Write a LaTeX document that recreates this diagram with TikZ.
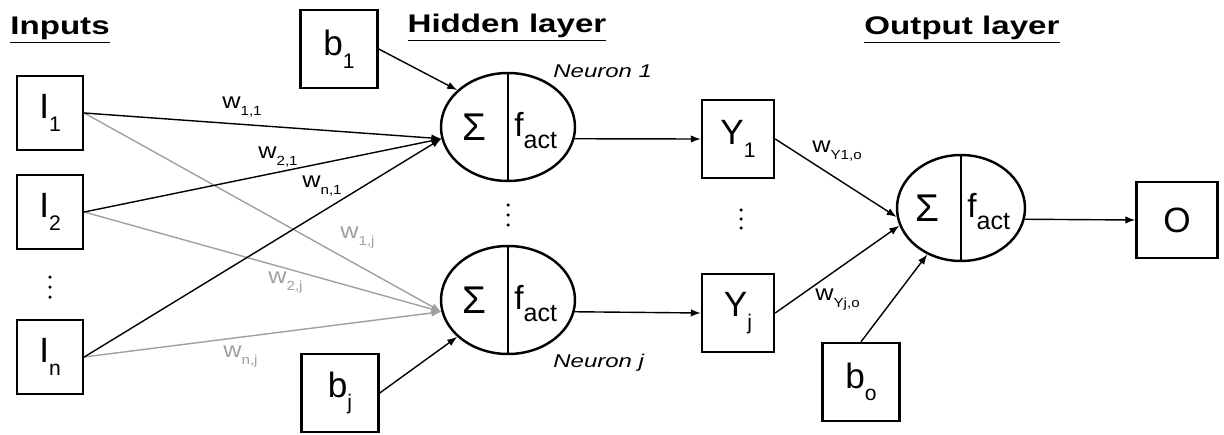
\documentclass[tikz,border=0pt]{standalone}
\usepackage{fontspec}
\setmainfont{Liberation Sans}
\newfontfamily\widesans[FakeStretch=1.3]{Liberation Sans}
\newfontfamily\wsans[FakeStretch=1.15]{Liberation Sans}
\usetikzlibrary{shapes.geometric,arrows.meta}
\definecolor{wgray}{RGB}{160,160,160}
\newcommand{\sub}[2][0.6]{\raisebox{-0.36em}{\scalebox{#1}{#2}}}
\tikzset{
  unitbox/.style={draw,line width=1.4pt,inner sep=0pt,minimum width=1.32cm,minimum height=1.48cm,font=\fontsize{20}{24}\selectfont},
  biasbox/.style={unitbox,minimum width=1.54cm,minimum height=1.56cm},
  outbox/.style={unitbox,minimum width=1.44cm,minimum height=1.56cm},
  neuron/.style={draw,ellipse,line width=1.4pt,inner sep=0pt,minimum width=2.68cm,minimum height=2.16cm},
  sym/.style={inner sep=0pt,font=\fontsize{#1}{24}\selectfont},
  layertitle/.style={inner sep=0pt,font=\fontsize{14.5}{16}\selectfont\widesans\bfseries},
  neuronname/.style={inner sep=0pt,anchor=west,font=\fontsize{10.5}{12}\selectfont\widesans\itshape},
  wlabel/.style={inner sep=0pt,anchor=base west,font=\fontsize{12.5}{14}\selectfont\wsans},
  conn/.style={line width=0.8pt,-{Latex[length=2mm,width=1.5mm]}}
}
\begin{document}
\begin{tikzpicture}
  \useasboundingbox (0,0) rectangle (24.48,8.68);
  % titles
  \node[layertitle] (tin) at (1.20,8.08) {\underline{Inputs}};
  \node[layertitle] (thid) at (10.14,8.12) {\underline{Hidden layer}};
  \node[layertitle] (tout) at (19.24,8.08) {\underline{Output layer}};

  % inputs
  \node[unitbox] (I1) at (1.00,6.42) {I\sub{1}};
  \node[unitbox] (I2) at (1.00,4.44) {I\sub{2}};
  \node[unitbox] (In) at (1.00,1.54) {I\sub{n}};

  % hidden layer
  \node[biasbox] (b1) at (6.78,7.70) {b\sub{1}};
  \node[biasbox] (bj) at (6.80,0.82) {b\sub{j}};
  \node[neuron] (N1) at (10.16,6.14) {};
  \node[neuron] (Nj) at (10.16,2.68) {};
  \node[neuronname] (n1name) at (11.06,7.26) {Neuron 1};
  \node[neuronname] (njname) at (11.06,1.42) {Neuron j};

  % hidden outputs
  \node[outbox] (Y1) at (14.76,5.90) {Y\sub{1}};
  \node[outbox] (Yj) at (14.76,2.42) {Y\sub{j}};

  % output layer
  \node[neuron,minimum width=2.56cm,minimum height=2.12cm] (NO) at (19.22,4.52) {};
  \node[biasbox] (bo) at (17.22,1.04) {b\sub{o}};
  \node[unitbox,minimum width=1.62cm,minimum height=1.52cm] (O) at (23.54,4.28) {O};

  % dots between units
  \foreach \x/\y in {1.00/3.14, 1.00/2.94, 1.00/2.74,
                     10.16/4.58, 10.16/4.38, 10.16/4.18,
                     14.82/4.48, 14.82/4.30, 14.82/4.12}
    \fill (\x,\y) circle (0.035);

  \foreach \n in {N1,Nj,NO}{
    \draw[line width=1.4pt] (\n.north) -- (\n.south);
    \node[sym=22,anchor=base] at ([xshift=-0.68cm,yshift=-0.27cm]\n.center) {Σ};
    \node[sym=19,anchor=base west] at ([xshift=0.12cm,yshift=-0.18cm]\n.center) {f\sub[0.75]{act}};
  }

  % weights
  \foreach \i in {I1,I2,In}
    \draw[conn,wgray] (\i.east) -- (Nj.190);
  \foreach \i in {I1,I2,In}
    \draw[conn] (\i.east) -- (N1.190);
  \draw[conn] (b1.east) -- (N1.144);
  \draw[conn] (bj.east) -- (Nj.216);
  \draw[conn] (N1.-10) -- (Y1.west);
  \draw[conn] (Nj.-10) -- (Yj.west);
  \draw[conn] (Y1.east) -- (NO.188);
  \draw[conn] (Yj.east) -- (NO.196);
  \draw[conn] (bo.north) -- (NO.234);
  \draw[conn] (NO.-10) -- (O.west);

  \node[wlabel] (w11) at (4.44,6.52) {w\sub{1,1}};
  \node[wlabel] (w21) at (5.16,5.52) {w\sub{2,1}};
  \node[wlabel] (wn1) at (6.04,4.94) {w\sub{n,1}};
  \node[wlabel,wgray] (w1j) at (6.80,3.92) {w\sub{1,j}};
  \node[wlabel,wgray] (w2j) at (5.36,3.02) {w\sub{2,j}};
  \node[wlabel,wgray] (wnj) at (4.46,1.54) {w\sub{n,j}};
  \node[wlabel] (wy1) at (16.24,5.64) {w\sub{Y1,o}};
  \node[wlabel] (wyj) at (16.30,2.68) {w\sub{Yj,o}};
\end{tikzpicture}
\end{document}
